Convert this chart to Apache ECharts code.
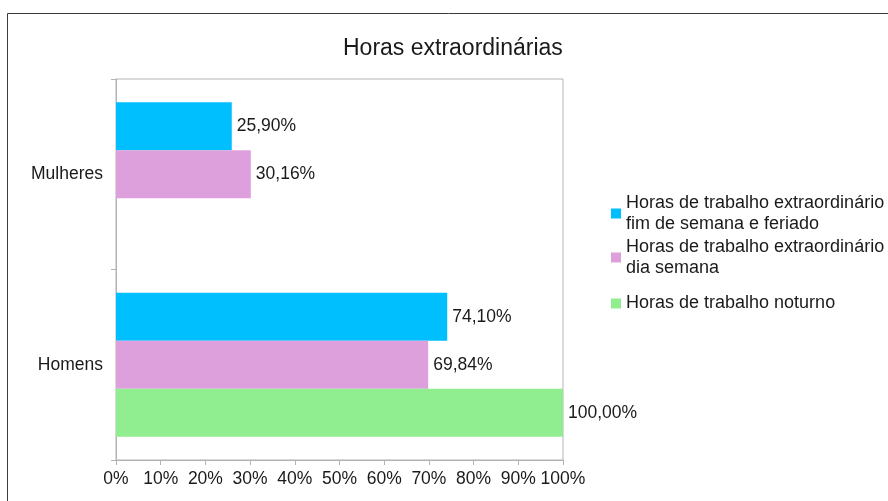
<!DOCTYPE html>
<html>
<head>
<meta charset="utf-8">
<script src="https://cdn.jsdelivr.net/npm/echarts@6/dist/echarts.min.js"></script>
<style>
  html, body { margin: 0; padding: 0; background: #fff; }
  #chart { width: 888px; height: 501px; }
</style>
</head>
<body>
<div id="chart"></div>
<script>
// categories (top to bottom)
const categories = ['Mulheres', 'Homens'];

// series values, in %
const seriesNames = [
  'Horas de trabalho extraordinário fim de semana e feriado',
  'Horas de trabalho extraordinário dia semana',
  'Horas de trabalho noturno'
];
const fimDeSemana = [25.90, 74.10];
const diaSemana = [30.16, 69.84];
const noturno = [null, 100.00];

// legend text, wrapped like the original
const legendLines = [
  'Horas de trabalho extraordinário\nfim de semana e feriado',
  'Horas de trabalho extraordinário\ndia semana',
  'Horas de trabalho noturno'
];

const colors = ['#00bfff', '#dda0dd', '#90ee90'];
const textColor = '#1a1a1a';
const axisColor = '#b3b3b3';
const fontFamily = '"Liberation Sans", Arial, sans-serif';
const lh = 21;

function pctLabel(p) {
  return p.value.toFixed(2).replace('.', ',') + '%';
}

const chart = echarts.init(document.getElementById('chart'));

// one legend per item so that the icon sits on the first text line
function makeLegend(i, top) {
  const twoLines = legendLines[i].indexOf('\n') >= 0;
  return {
    data: [seriesNames[i]],
    orient: 'vertical',
    left: 611,
    top: top,
    padding: 0,
    itemWidth: 10,
    itemHeight: 10,
    icon: 'rect',
    selectedMode: false,
    formatter: function () { return legendLines[i]; },
    textStyle: {
      color: textColor,
      fontSize: 18,
      fontFamily: fontFamily,
      lineHeight: lh,
      padding: twoLines ? [lh, 0, 0, 0] : 0
    }
  };
}

const option = {
  animation: false,
  backgroundColor: '#fff',
  title: {
    text: 'Horas extraordinárias',
    left: 343,
    top: 37,
    padding: 0,
    textStyle: {
      color: textColor,
      fontSize: 23,
      fontWeight: 'normal',
      fontFamily: fontFamily
    }
  },
  legend: [makeLegend(0, 182), makeLegend(1, 226), makeLegend(2, 293)],
  grid: {
    left: 116,
    right: 325,
    top: 79,
    bottom: 41,
    show: true,
    borderColor: axisColor,
    borderWidth: 1,
    containLabel: false
  },
  xAxis: {
    type: 'value',
    min: 0,
    max: 100,
    interval: 10,
    axisLine: { show: true, lineStyle: { color: axisColor } },
    axisTick: { show: true, length: 5, lineStyle: { color: axisColor } },
    splitLine: { show: false },
    axisLabel: {
      formatter: '{value}%',
      color: textColor,
      fontSize: 17.5,
      fontFamily: fontFamily,
      margin: 10
    }
  },
  yAxis: {
    type: 'category',
    data: categories,
    inverse: true,
    axisLine: { show: true, lineStyle: { color: axisColor } },
    axisTick: { show: true, length: 5, lineStyle: { color: axisColor } },
    axisLabel: {
      color: textColor,
      fontSize: 17.5,
      fontFamily: fontFamily,
      margin: 13
    }
  },
  series: [
    { name: seriesNames[0], data: fimDeSemana, color: colors[0] },
    { name: seriesNames[1], data: diaSemana, color: colors[1] },
    { name: seriesNames[2], data: noturno, color: colors[2] }
  ].map(function (s) {
    return {
      name: s.name,
      type: 'bar',
      data: s.data,
      itemStyle: { color: s.color },
      barGap: '0%',
      barCategoryGap: '24.4%',
      label: {
        show: true,
        position: 'right',
        distance: 5,
        formatter: pctLabel,
        color: textColor,
        fontSize: 17.5,
        fontFamily: fontFamily
      }
    };
  }),
  graphic: [{
    type: 'rect',
    shape: { x: 7.5, y: 13.5, width: 1000, height: 1000 },
    style: { fill: 'none', stroke: '#3c3c3c', lineWidth: 1 },
    silent: true
  }]
};

chart.setOption(option);
</script>
</body>
</html>
